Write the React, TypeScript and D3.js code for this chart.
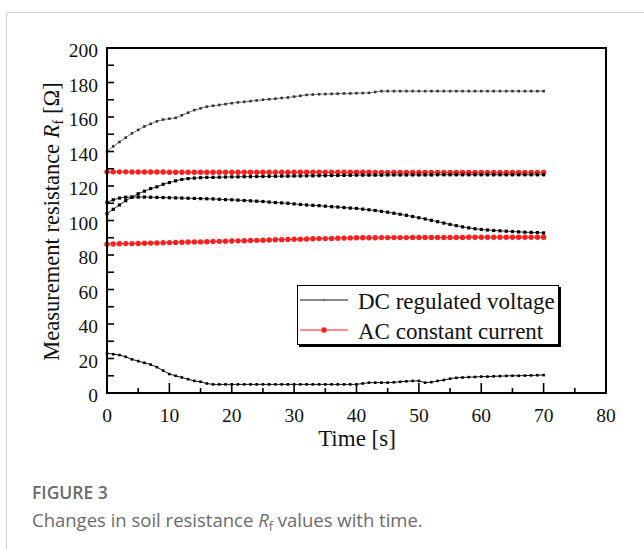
import React from "react";
import * as d3 from "d3";

// Sampling instants (s)
const sampleTimes: number[] = d3.range(0, 71);

// DC regulated voltage runs (Ω)
const dcHigh: number[] = [
  140, 143, 145.5, 148, 150.5, 152.5, 154.5, 156, 157.5, 158.5,
  159, 159.5, 161, 162.5, 164, 165, 166, 166.5, 167, 167.5,
  168, 168.5, 168.8, 169.2, 169.6, 170, 170.3, 170.6, 171, 171.3,
  171.8, 172.3, 172.8, 173, 173.2, 173.3, 173.4, 173.5, 173.6, 173.7,
  173.8, 173.9, 174, 174.5, 175, 175, 175, 175, 175, 175,
  175, 175, 175, 175, 175, 175, 175, 175, 175, 175,
  175, 175, 175, 175, 175, 175, 175, 175, 175, 175, 175,
];
const dcRising: number[] = [
  104, 106.5, 109, 111.5, 113.5, 115.5, 117, 118.5, 119.5, 121,
  122, 123, 123.8, 124.3, 124.6, 124.8, 125, 125, 125.1, 125.2,
  125.3, 125.3, 125.4, 125.4, 125.5, 125.5, 125.6, 125.6, 125.7, 125.7,
  125.8, 125.8, 125.9, 125.9, 126, 126, 126.1, 126.1, 126.2, 126.2,
  126.3, 126.3, 126.3, 126.3, 126.3, 126.4, 126.4, 126.4, 126.4, 126.4,
  126.4, 126.4, 126.4, 126.5, 126.5, 126.5, 126.5, 126.5, 126.5, 126.5,
  126.5, 126.5, 126.5, 126.5, 126.5, 126.5, 126.5, 126.5, 126.5, 126.5, 126.5,
];
const dcFalling: number[] = [
  110.5, 112, 113, 113.5, 113.6, 113.6, 113.6, 113.5, 113.4, 113.3,
  113.2, 113.1, 113, 112.9, 112.8, 112.7, 112.6, 112.5, 112.3, 112.1,
  112, 111.8, 111.6, 111.4, 111.2, 111, 110.7, 110.4, 110.2, 110,
  109.6, 109.3, 109, 108.8, 108.6, 108.3, 108, 107.8, 107.5, 107.2,
  107, 106.6, 106.2, 105.8, 105.3, 104.8, 104.2, 103.6, 103, 102.3,
  101.6, 100.9, 100.1, 99.3, 98.5, 97.7, 97, 96.3, 95.7, 95.2,
  94.8, 94.5, 94.2, 94, 93.8, 93.6, 93.4, 93.2, 93.1, 93, 92.8,
];
const dcLow: number[] = [
  23, 22.5, 22, 21, 19.5, 18.5, 17.5, 16.5, 15, 13,
  11, 10, 9, 8, 7, 6.5, 5.5, 5, 5, 5,
  5, 5, 5, 5, 5, 5, 5, 5, 5, 5,
  5, 5, 5, 5, 5, 5, 5, 5, 5, 5,
  5, 5.5, 6, 6, 6, 6, 6.2, 6.5, 6.8, 7,
  7, 6, 6.3, 7, 7.5, 8.3, 8.8, 9, 9.2, 9.3,
  9.5, 9.5, 9.7, 9.8, 9.9, 10, 10, 10.1, 10.2, 10.3, 10.4,
];

// AC constant current runs (Ω)
const acHigh: number[] = [
  128.2, 128.2, 128.2, 128.2, 128.1, 128.1, 128.1, 128.1, 128.1, 128.1,
  128, 128, 128, 128, 128, 128, 128, 128, 128, 128,
  128, 128, 128, 128, 128, 128, 128, 128, 128, 128,
  128, 128, 128, 128, 128, 128, 128, 128, 128, 128,
  128, 128, 128, 127.9, 127.9, 127.9, 127.9, 127.9, 127.9, 127.9,
  127.9, 127.9, 127.9, 127.9, 127.8, 127.8, 127.8, 127.8, 127.8, 127.8,
  127.8, 127.8, 127.8, 127.8, 127.8, 127.8, 127.8, 127.8, 127.8, 127.8, 127.8,
];
const acLow: number[] = [
  86.3, 86.4, 86.5, 86.6, 86.6, 86.7, 86.8, 86.9, 87, 87.1,
  87.2, 87.3, 87.4, 87.5, 87.6, 87.6, 87.7, 87.8, 87.9, 88,
  88.1, 88.2, 88.3, 88.4, 88.5, 88.6, 88.7, 88.8, 88.9, 89,
  89.1, 89.2, 89.3, 89.4, 89.5, 89.5, 89.6, 89.7, 89.8, 89.9,
  90, 90, 90, 90, 90.1, 90.1, 90.1, 90.1, 90.1, 90.2,
  90.2, 90.2, 90.2, 90.2, 90.2, 90.2, 90.2, 90.2, 90.3, 90.3,
  90.3, 90.3, 90.3, 90.3, 90.3, 90.3, 90.3, 90.3, 90.3, 90.3, 90.3,
];

const xMajorTicks: number[] = [0, 10, 20, 30, 40, 50, 60, 70, 80];
const xMinorTicks: number[] = [5, 15, 25, 35, 45, 55, 65, 75];
const yTickLabels: number[] = [0, 20, 40, 60, 80, 100, 120, 140, 160, 180, 200];
const yTickMarks: number[] = [10, 20, 30, 40, 50, 60, 70, 80, 90, 100, 110, 120, 130, 140, 150, 160, 170, 180, 190];

const legendItems = ["DC regulated voltage", "AC constant current"];

const SERIF = "'Liberation Serif', 'Times New Roman', serif";
const SANS = "'Open Sans', 'Noto Sans', sans-serif";
const RED = "#ff1f1f";

export default function App() {
  const W = 644;
  const H = 549;
  const left = 107;
  const right = 606;
  const top = 48;
  const bottom = 393;

  const x = d3.scaleLinear().domain([0, 80]).range([left, right]);
  const y = d3.scaleLinear().domain([0, 200]).range([bottom, top]);

  const line = d3
    .line<number>()
    .x((_, i) => x(sampleTimes[i]))
    .y((v) => y(v));

  const blackRuns = [
    { values: dcHigh, stroke: "#777", marker: "#333", size: 2.6 },
    { values: dcRising, stroke: "#333", marker: "#000", size: 3.2 },
    { values: dcFalling, stroke: "#333", marker: "#000", size: 3.2 },
    { values: dcLow, stroke: "#111", marker: "#000", size: 2.6 },
  ];
  const redRuns = [acHigh, acLow];

  return (
    <svg
      width={W}
      height={H}
      viewBox={`0 0 ${W} ${H}`}
      style={{ position: "absolute", left: 0, top: 0, background: "#fff" }}
    >
      {/* card border */}
      <line x1={6} y1={12.5} x2={W} y2={12.5} stroke="#cfcfcf" strokeWidth={1} />
      <line x1={6.5} y1={12} x2={6.5} y2={H} stroke="#cfcfcf" strokeWidth={1} />

      {/* AC runs: red dots */}
      {redRuns.map((vals, k) => (
        <g key={`ac${k}`}>
          <path d={line(vals) || ""} fill="none" stroke={RED} strokeWidth={1} />
          {vals.map((v, i) => (
            <circle key={i} cx={x(sampleTimes[i])} cy={y(v)} r={2.7} fill={RED} />
          ))}
        </g>
      ))}

      {/* DC runs: black squares */}
      {blackRuns.map((run, k) => (
        <g key={`dc${k}`}>
          <path d={line(run.values) || ""} fill="none" stroke={run.stroke} strokeWidth={1} />
          {run.values.map((v, i) => (
            <rect
              key={i}
              x={x(sampleTimes[i]) - run.size / 2}
              y={y(v) - run.size / 2}
              width={run.size}
              height={run.size}
              fill={run.marker}
            />
          ))}
        </g>
      ))}

      {/* plot frame */}
      <rect
        x={left}
        y={top}
        width={right - left}
        height={bottom - top}
        fill="none"
        stroke="#000"
        strokeWidth={2}
      />

      {/* y ticks */}
      {yTickMarks.map((t) => (
        <line key={`yt${t}`} x1={left} x2={left + 7} y1={y(t)} y2={y(t)} stroke="#000" strokeWidth={1.6} />
      ))}
      {yTickLabels.map((t) => (
        <text
          key={`yl${t}`}
          x={left - 9}
          y={y(t) + 9}
          textAnchor="end"
          fontFamily={SERIF}
          fontSize={19.5}
          fill="#111"
        >
          {t}
        </text>
      ))}

      {/* x ticks */}
      {xMajorTicks.map((t) => (
        <line key={`xt${t}`} x1={x(t)} x2={x(t)} y1={bottom} y2={bottom - 10} stroke="#000" strokeWidth={1.6} />
      ))}
      {xMinorTicks.map((t) => (
        <line key={`xm${t}`} x1={x(t)} x2={x(t)} y1={bottom} y2={bottom - 5} stroke="#000" strokeWidth={1.6} />
      ))}
      {xMajorTicks.map((t) => (
        <text
          key={`xl${t}`}
          x={x(t)}
          y={422}
          textAnchor="middle"
          fontFamily={SERIF}
          fontSize={19.5}
          fill="#111"
        >
          {t}
        </text>
      ))}

      {/* axis titles */}
      <text x={357} y={446} textAnchor="middle" fontFamily={SERIF} fontSize={23} fill="#111">
        Time [s]
      </text>
      <text
        transform={`translate(59, ${(top + bottom) / 2 + 1}) rotate(-90)`}
        textAnchor="middle"
        fontFamily={SERIF}
        fontSize={22.5}
        fill="#111"
      >
        Measurement resistance{" "}
        <tspan fontStyle="italic">R</tspan>
        <tspan fontSize={14.5} dy={4}>f</tspan>
        <tspan dy={-4}> [Ω]</tspan>
      </text>

      {/* legend */}
      <rect x={299} y={287} width={262} height={60} fill="#000" />
      <rect x={297.5} y={285.5} width={261} height={59} fill="#fff" stroke="#000" strokeWidth={1} />
      {legendItems.map((label, i) => {
        const ly = 300 + i * 30;
        const isAc = i === 1;
        return (
          <g key={label}>
            <line x1={300} x2={348} y1={ly} y2={ly} stroke={isAc ? RED : "#111"} strokeWidth={1.2} />
            {isAc ? (
              <circle cx={324} cy={ly} r={2.7} fill={RED} />
            ) : (
              <rect x={322.8} y={ly - 1.2} width={2.4} height={2.4} fill="#777" />
            )}
            <text x={358} y={ly + 9} fontFamily={SERIF} fontSize={23} fill="#111">
              {label}
            </text>
          </g>
        );
      })}

      {/* caption */}
      <text x={32} y={499} fontFamily={SANS} fontSize={17.5} fontWeight={600} fill="#6b6b6b">
        FIGURE 3
      </text>
      <text x={32} y={527} fontFamily={SANS} fontSize={18.5} fill="#6b6b6b">
        Changes in soil resistance{" "}
        <tspan fontStyle="italic">R</tspan>
        <tspan fontSize={12.5} dy={3.5}>f</tspan>
        <tspan dy={-3.5}> values with time.</tspan>
      </text>
    </svg>
  );
}
